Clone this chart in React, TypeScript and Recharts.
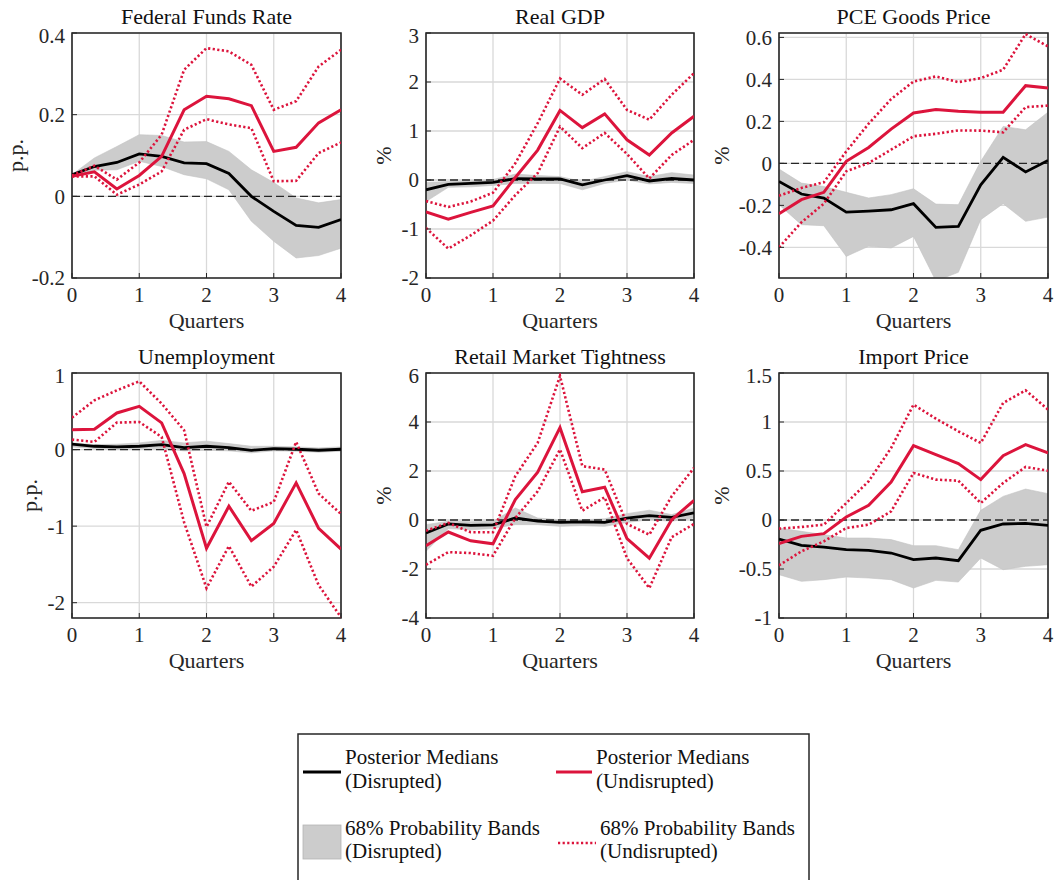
import React from 'react';
import { ComposedChart, Line, Area, XAxis, YAxis, CartesianGrid, ReferenceLine, ReferenceArea } from 'recharts';

const quarters = [0, 0.333, 0.667, 1, 1.333, 1.667, 2, 2.333, 2.667, 3, 3.333, 3.667, 4];
const xTicks = [0, 1, 2, 3, 4];

// Federal Funds Rate
const ffrDisMed = [0.053, 0.073, 0.083, 0.104, 0.098, 0.082, 0.080, 0.056, 0.000, -0.037, -0.071, -0.076, -0.057];
const ffrDisHi = [0.053, 0.094, 0.122, 0.151, 0.149, 0.133, 0.134, 0.110, 0.065, 0.034, -0.004, -0.016, -0.008];
const ffrDisLo = [0.049, 0.064, 0.065, 0.086, 0.073, 0.053, 0.043, 0.016, -0.061, -0.110, -0.151, -0.145, -0.127];
const ffrUndMed = [0.049, 0.060, 0.018, 0.051, 0.098, 0.212, 0.245, 0.239, 0.222, 0.110, 0.120, 0.180, 0.212];
const ffrUndHi = [0.051, 0.075, 0.041, 0.083, 0.151, 0.310, 0.363, 0.355, 0.322, 0.212, 0.233, 0.318, 0.359];
const ffrUndLo = [0.049, 0.049, 0.004, 0.029, 0.061, 0.163, 0.189, 0.176, 0.167, 0.037, 0.038, 0.106, 0.132];
const ffrTicks = [-0.2, 0, 0.2, 0.4];

// Real GDP
const gdpDisMed = [-0.20, -0.09, -0.07, -0.05, 0.03, 0.02, 0.02, -0.10, 0.00, 0.09, -0.02, 0.03, 0.00];
const gdpDisHi = [-0.05, -0.03, -0.02, 0.01, 0.12, 0.09, 0.07, -0.03, 0.07, 0.17, 0.07, 0.15, 0.10];
const gdpDisLo = [-0.44, -0.15, -0.14, -0.11, -0.07, -0.07, -0.07, -0.20, -0.07, 0.00, -0.08, -0.05, -0.07];
const gdpUndMed = [-0.65, -0.80, -0.66, -0.53, 0.05, 0.61, 1.42, 1.07, 1.35, 0.82, 0.51, 0.96, 1.30];
const gdpUndHi = [-0.43, -0.55, -0.44, -0.26, 0.34, 1.16, 2.07, 1.74, 2.06, 1.43, 1.23, 1.74, 2.18];
const gdpUndLo = [-0.98, -1.40, -1.13, -0.83, -0.31, 0.14, 1.09, 0.65, 0.96, 0.53, 0.03, 0.51, 0.82];
const gdpTicks = [-2, -1, 0, 1, 2, 3];

// PCE Goods Price
const pceDisMed = [-0.086, -0.146, -0.165, -0.232, -0.227, -0.221, -0.192, -0.305, -0.300, -0.102, 0.029, -0.041, 0.014];
const pceDisHi = [-0.027, -0.094, -0.110, -0.138, -0.165, -0.149, -0.121, -0.194, -0.197, 0.010, 0.176, 0.160, 0.244];
const pceDisLo = [-0.197, -0.292, -0.297, -0.443, -0.395, -0.403, -0.348, -0.560, -0.519, -0.268, -0.192, -0.276, -0.256];
const pceUndMed = [-0.240, -0.173, -0.138, 0.010, 0.076, 0.163, 0.240, 0.256, 0.248, 0.243, 0.244, 0.370, 0.359];
const pceUndHi = [-0.154, -0.117, -0.090, 0.057, 0.189, 0.306, 0.390, 0.414, 0.387, 0.406, 0.446, 0.616, 0.557];
const pceUndLo = [-0.400, -0.281, -0.192, -0.038, 0.002, 0.065, 0.129, 0.141, 0.157, 0.156, 0.148, 0.268, 0.275];
const pceTicks = [-0.4, -0.2, 0, 0.2, 0.4, 0.6];

// Unemployment
const unDisMed = [0.070, 0.043, 0.035, 0.043, 0.065, 0.026, 0.043, 0.026, -0.010, 0.013, 0.004, -0.009, 0.004];
const unDisHi = [0.087, 0.065, 0.070, 0.087, 0.120, 0.087, 0.110, 0.078, 0.043, 0.043, 0.035, 0.022, 0.035];
const unDisLo = [0.035, 0.013, 0.000, 0.013, 0.013, -0.017, -0.009, -0.017, -0.043, -0.017, -0.022, -0.035, -0.022];
const unUndMed = [0.260, 0.265, 0.478, 0.565, 0.348, -0.313, -1.290, -0.740, -1.190, -0.965, -0.435, -1.030, -1.300];
const unUndHi = [0.417, 0.643, 0.774, 0.891, 0.600, 0.252, -1.010, -0.420, -0.800, -0.683, 0.100, -0.574, -0.843];
const unUndLo = [0.130, 0.100, 0.352, 0.360, 0.165, -0.950, -1.810, -1.260, -1.790, -1.530, -1.050, -1.770, -2.190];
const unTicks = [-2, -1, 0, 1];

// Retail Market Tightness
const rmtDisMed = [-0.53, -0.16, -0.22, -0.20, 0.08, -0.05, -0.10, -0.08, -0.10, 0.08, 0.18, 0.11, 0.29];
const rmtDisHi = [-0.19, -0.05, -0.07, -0.05, 0.49, 0.08, 0.01, 0.01, 0.05, 0.26, 0.40, 0.22, 0.49];
const rmtDisLo = [-1.28, -0.35, -0.40, -0.35, -0.19, -0.19, -0.26, -0.23, -0.26, -0.10, 0.01, -0.05, 0.08];
const rmtUndMed = [-1.05, -0.49, -0.85, -0.97, 0.83, 1.95, 3.77, 1.15, 1.34, -0.76, -1.56, 0.01, 0.80];
const rmtUndHi = [-0.44, -0.12, -0.50, -0.50, 1.79, 3.15, 5.88, 2.20, 2.06, -0.16, -0.60, 0.97, 2.13];
const rmtUndLo = [-1.83, -1.31, -1.35, -1.46, 0.08, 1.17, 2.88, 0.38, 0.93, -1.56, -2.78, -0.70, -0.16];
const rmtTicks = [-4, -2, 0, 2, 4, 6];

// Import Price
const impDisMed = [-0.194, -0.259, -0.276, -0.303, -0.310, -0.337, -0.405, -0.388, -0.415, -0.105, -0.041, -0.034, -0.054];
const impDisHi = [-0.082, -0.116, -0.150, -0.184, -0.184, -0.200, -0.262, -0.262, -0.303, 0.099, 0.241, 0.316, 0.269];
const impDisLo = [-0.558, -0.626, -0.609, -0.582, -0.592, -0.609, -0.694, -0.616, -0.633, -0.388, -0.507, -0.473, -0.456];
const impUndMed = [-0.241, -0.167, -0.139, 0.031, 0.150, 0.388, 0.759, 0.667, 0.575, 0.412, 0.656, 0.769, 0.684];
const impUndHi = [-0.088, -0.071, -0.048, 0.173, 0.395, 0.735, 1.177, 1.034, 0.905, 0.786, 1.194, 1.323, 1.126];
const impUndLo = [-0.463, -0.320, -0.218, -0.082, -0.048, 0.088, 0.480, 0.412, 0.401, 0.173, 0.378, 0.541, 0.503];
const impTicks = [-1, -0.5, 0, 0.5, 1, 1.5];

const FONT = "'Liberation Serif', 'Times New Roman', serif";
const RED = '#dc143c';
const TXT = '#262626';

type PanelProps = {
  title: string; ylabel: string; ylabelX: number;
  left: number; top: number; w: number; h: number;
  domain: [number, number]; ticks: number[];
  dm: number[]; dh: number[]; dl: number[]; um: number[]; uh: number[]; ul: number[];
};

const panels: PanelProps[] = [
  { title: 'Federal Funds Rate', ylabel: 'p.p.', ylabelX: 23, left: 72, top: 33, w: 269, h: 245, domain: [-0.2, 0.4], ticks: ffrTicks, dm: ffrDisMed, dh: ffrDisHi, dl: ffrDisLo, um: ffrUndMed, uh: ffrUndHi, ul: ffrUndLo },
  { title: 'Real GDP', ylabel: '%', ylabelX: 391, left: 426, top: 33, w: 268, h: 245, domain: [-2, 3], ticks: gdpTicks, dm: gdpDisMed, dh: gdpDisHi, dl: gdpDisLo, um: gdpUndMed, uh: gdpUndHi, ul: gdpUndLo },
  { title: 'PCE Goods Price', ylabel: '%', ylabelX: 729, left: 779, top: 33, w: 269, h: 245, domain: [-0.546, 0.621], ticks: pceTicks, dm: pceDisMed, dh: pceDisHi, dl: pceDisLo, um: pceUndMed, uh: pceUndHi, ul: pceUndLo },
  { title: 'Unemployment', ylabel: 'p.p.', ylabelX: 37, left: 72, top: 373, w: 269, h: 245, domain: [-2.2, 1], ticks: unTicks, dm: unDisMed, dh: unDisHi, dl: unDisLo, um: unUndMed, uh: unUndHi, ul: unUndLo },
  { title: 'Retail Market Tightness', ylabel: '%', ylabelX: 391, left: 426, top: 373, w: 268, h: 245, domain: [-4, 6], ticks: rmtTicks, dm: rmtDisMed, dh: rmtDisHi, dl: rmtDisLo, um: rmtUndMed, uh: rmtUndHi, ul: rmtUndLo },
  { title: 'Import Price', ylabel: '%', ylabelX: 729, left: 779, top: 373, w: 269, h: 245, domain: [-1, 1.5], ticks: impTicks, dm: impDisMed, dh: impDisHi, dl: impDisLo, um: impUndMed, uh: impUndHi, ul: impUndLo },
];

const LM = 70, TM = 10, RM = 10, XH = 60;

function Panel(p: PanelProps) {
  const data = quarters.map((q, i) => ({
    q, dm: p.dm[i], band: [p.dl[i], p.dh[i]], um: p.um[i], uh: p.uh[i], ul: p.ul[i],
  }));
  const tickStyle = { fontSize: 21, fontFamily: FONT, fill: TXT };
  return (
    <div style={{ position: 'absolute', left: p.left - LM, top: p.top - TM }}>
      <ComposedChart width={p.w + LM + RM} height={p.h + TM + XH} data={data} margin={{ top: TM, right: RM, bottom: 0, left: 0 }}>
        <CartesianGrid stroke="#d9d9d9" strokeWidth={1.3} />
        <XAxis dataKey="q" type="number" domain={[0, 4]} ticks={xTicks} height={XH} axisLine={false}
          tickSize={-5} tickMargin={14} tickLine={{ stroke: TXT, strokeWidth: 1 }} tick={tickStyle} allowDataOverflow />
        <YAxis type="number" domain={p.domain} ticks={p.ticks} width={LM} axisLine={false}
          tickSize={-5} tickMargin={12} tickLine={{ stroke: TXT, strokeWidth: 1 }} tick={tickStyle} allowDataOverflow
          tickFormatter={(v: number) => String(v)} />
        <Area dataKey="band" type="linear" fill="#cccccc" fillOpacity={1} stroke="#c2c2c2" strokeWidth={0.6} isAnimationActive={false} dot={false} activeDot={false} />
        <ReferenceLine y={0} stroke="#262626" strokeWidth={1.3} strokeDasharray="8 4" />
        <Line dataKey="dm" type="linear" stroke="#000000" strokeWidth={2.8} dot={false} activeDot={false} isAnimationActive={false} />
        <Line dataKey="uh" type="linear" stroke={RED} strokeWidth={2.6} strokeDasharray="2.2 2.4" dot={false} activeDot={false} isAnimationActive={false} />
        <Line dataKey="ul" type="linear" stroke={RED} strokeWidth={2.6} strokeDasharray="2.2 2.4" dot={false} activeDot={false} isAnimationActive={false} />
        <Line dataKey="um" type="linear" stroke={RED} strokeWidth={3} dot={false} activeDot={false} isAnimationActive={false} />
        <ReferenceArea x1={0} x2={4} y1={p.domain[0]} y2={p.domain[1]} fill="none" fillOpacity={0} stroke="#262626" strokeWidth={1.6} ifOverflow="visible" />
      </ComposedChart>
    </div>
  );
}

export default function App() {
  return (
    <div style={{ position: 'absolute', left: 0, top: 0, width: 1054, height: 880, overflow: 'hidden', background: '#ffffff' }}>
      {panels.map((p) => <Panel key={p.title} {...p} />)}
      <svg width={1054} height={880} style={{ position: 'absolute', left: 0, top: 0, pointerEvents: 'none' }} fontFamily={FONT}>
        {panels.map((p) => (
          <g key={p.title}>
            <text x={p.left + p.w / 2} y={p.top - 9} textAnchor="middle" fontSize={22} fill="#111">{p.title}</text>
            <text x={p.left + p.w / 2} y={p.top + p.h + 50} textAnchor="middle" fontSize={22} fill={TXT}>Quarters</text>
            <text transform={`translate(${p.ylabelX},${p.top + p.h / 2}) rotate(-90)`} textAnchor="middle" fontSize={22} fill={TXT}>{p.ylabel}</text>
          </g>
        ))}
        <rect x={298} y={734} width={511} height={160} fill="#ffffff" stroke="#262626" strokeWidth={1.5} />
        <line x1={303} x2={341} y1={772} y2={772} stroke="#000" strokeWidth={3} />
        <text x={345} y={764} fontSize={21} fill="#111">Posterior Medians</text>
        <text x={345} y={788} fontSize={21} fill="#111">(Disrupted)</text>
        <line x1={556} x2={592} y1={772} y2={772} stroke={RED} strokeWidth={3} />
        <text x={596} y={764} fontSize={21} fill="#111">Posterior Medians</text>
        <text x={596} y={788} fontSize={21} fill="#111">(Undisrupted)</text>
        <rect x={303} y={825} width={38} height={34} fill="#cccccc" stroke="#b5b5b5" strokeWidth={0.8} />
        <text x={345} y={835} fontSize={21} fill="#111">68% Probability Bands</text>
        <text x={345} y={858} fontSize={21} fill="#111">(Disrupted)</text>
        <line x1={558} x2={596} y1={843} y2={843} stroke={RED} strokeWidth={2.6} strokeDasharray="2.2 2.4" />
        <text x={600} y={835} fontSize={21} fill="#111">68% Probability Bands</text>
        <text x={600} y={858} fontSize={21} fill="#111">(Undisrupted)</text>
      </svg>
    </div>
  );
}
